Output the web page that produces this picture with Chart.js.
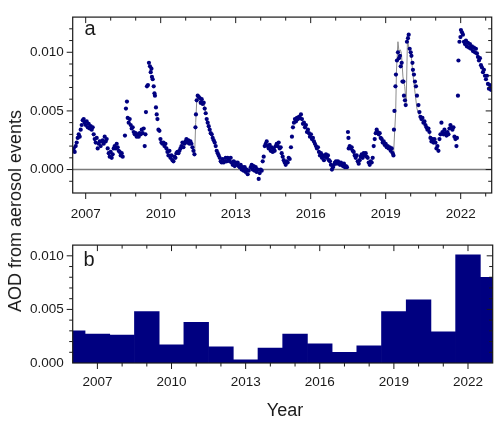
<!DOCTYPE html>
<html>
<head>
<meta charset="utf-8">
<script src="https://cdn.jsdelivr.net/npm/chart.js@4.4.0/dist/chart.umd.min.js"></script>
<style>
  html, body { margin: 0; padding: 0; background: #fff; }
  #wrap { position: relative; width: 500px; height: 422px; font-family: "Liberation Sans", Arial, sans-serif; color: #1a1a1a; }
  canvas { position: absolute; left: 0; }
  #cA { top: 0; }
  #cB { top: 228px; }
  .lbl { position: absolute; white-space: nowrap; transform: translate(-50%, -50%); line-height: 1; }
  #yTitle { left: 15px; top: 211px; font-size: 18px; transform: translate(-50%, -50%) rotate(-90deg); }
  #xTitle { left: 285px; top: 410px; font-size: 18px; }
  #tagA { left: 90px; top: 28px; font-size: 20px; }
  #tagB { left: 89px; top: 259px; font-size: 20px; }
</style>
</head>
<body>
<div id="wrap">
  <canvas id="cA" width="500" height="228"></canvas>
  <canvas id="cB" width="500" height="194"></canvas>
  <div class="lbl" id="yTitle">AOD from aerosol events</div>
  <div class="lbl" id="xTitle">Year</div>
  <div class="lbl" id="tagA">a</div>
  <div class="lbl" id="tagB">b</div>
</div>
<script>
// panel a: individual event AOD values [decimal year, AOD]
const events2006to2008 = [
  [2006.48,0.0016],[2006.52,0.0018],[2006.56,0.0015],[2006.60,0.0020],[2006.64,0.0023],[2006.68,0.0027],
  [2006.72,0.0030],[2006.76,0.0028],[2006.80,0.0034],[2006.84,0.0038],[2006.88,0.0042],[2006.92,0.0043],
  [2006.96,0.0040],[2007.00,0.0038],[2007.04,0.0041],[2007.08,0.0036],[2007.12,0.0039],[2007.16,0.0035],
  [2007.20,0.0037],[2007.24,0.0034],[2007.28,0.0036],[2007.32,0.0030],[2007.36,0.0026],[2007.40,0.0023],
  [2007.44,0.0027],[2007.48,0.0018],[2007.52,0.0022],[2007.56,0.0024],[2007.60,0.0020],[2007.64,0.0024],
  [2007.68,0.0025],[2007.72,0.0022],[2007.76,0.0028],[2007.80,0.0024],[2007.84,0.0026],[2007.88,0.0018],
  [2007.92,0.0014],[2007.96,0.0011],[2008.00,0.0015],[2008.04,0.0010],[2008.08,0.0013],[2008.12,0.0018],
  [2008.16,0.0020],[2008.20,0.0018],[2008.24,0.0022],[2008.28,0.0019],[2008.32,0.0016],[2008.36,0.0015],
  [2008.40,0.0012],[2008.44,0.0014],[2008.48,0.0011]
];
const events2008to2013 = [
  [2008.57,0.0029],[2008.61,0.0052],[2008.65,0.0058],[2008.68,0.0044],[2008.72,0.0040],[2008.76,0.0043],
  [2008.80,0.0038],[2008.84,0.0035],[2008.88,0.0036],[2008.92,0.0032],[2008.96,0.0030],[2009.00,0.0031],
  [2009.04,0.0028],[2009.08,0.0030],[2009.12,0.0028],[2009.16,0.0031],[2009.20,0.0030],[2009.24,0.0034],
  [2009.28,0.0031],[2009.32,0.0035],[2009.36,0.0020],[2009.39,0.0030],[2009.41,0.0049],[2009.45,0.0071],
  [2009.49,0.0072],[2009.53,0.0091],[2009.57,0.0088],[2009.60,0.0083],[2009.63,0.0086],[2009.65,0.0079],
  [2009.68,0.0077],[2009.72,0.0071],[2009.75,0.0065],[2009.77,0.0063],[2009.81,0.0053],[2009.84,0.0047],
  [2009.87,0.0043],[2009.91,0.0034],[2009.95,0.0033],[2009.99,0.0026],[2010.03,0.0023],[2010.07,0.0022],
  [2010.11,0.0023],[2010.15,0.0020],[2010.19,0.0022],[2010.23,0.0018],[2010.27,0.0015],[2010.31,0.0012],
  [2010.35,0.0016],[2010.39,0.0010],[2010.43,0.0012],[2010.47,0.0008],[2010.51,0.0007],[2010.55,0.0011],
  [2010.59,0.0010],[2010.63,0.0014],[2010.67,0.0015],[2010.71,0.0014],[2010.75,0.0016],[2010.79,0.0018],
  [2010.83,0.0020],[2010.87,0.0023],[2010.91,0.0019],[2010.95,0.0022],[2010.99,0.0024],[2011.03,0.0026],
  [2011.07,0.0023],[2011.11,0.0025],[2011.15,0.0022],[2011.19,0.0024],[2011.23,0.0022],[2011.27,0.0019],
  [2011.31,0.0016],[2011.35,0.0013],[2011.39,0.0036],[2011.41,0.0047],[2011.44,0.0059],[2011.48,0.0063],
  [2011.52,0.0062],[2011.56,0.0061],[2011.60,0.0057],[2011.64,0.0060],[2011.68,0.0056],[2011.72,0.0057],
  [2011.76,0.0052],[2011.80,0.0048],[2011.84,0.0043],[2011.88,0.0040],[2011.92,0.0037],[2011.96,0.0034],
  [2012.00,0.0031],[2012.04,0.0030],[2012.08,0.0027],[2012.12,0.0025],[2012.16,0.0023],[2012.20,0.0020],
  [2012.24,0.0016],[2012.28,0.0014],[2012.32,0.0012],[2012.36,0.0010],[2012.40,0.0007],[2012.44,0.0006],
  [2012.48,0.0009],[2012.52,0.0006],[2012.56,0.0007],[2012.60,0.0010],[2012.64,0.0007],[2012.68,0.0010],
  [2012.72,0.0009],[2012.76,0.0007],[2012.80,0.0010],[2012.84,0.0006],[2012.88,0.0004],[2012.92,0.0007],
  [2012.96,0.0003],[2013.00,0.0006],[2013.04,0.0004],[2013.08,0.0006],[2013.12,0.0003],[2013.16,0.0002],
  [2013.20,0.0004],[2013.24,0.0000],[2013.28,0.0002],[2013.32,-0.0001],[2013.36,0.0002],[2013.40,-0.0002],
  [2013.44,0.0000],[2013.48,-0.0004],[2013.52,-0.0001]
];
const events2013to2019 = [
  [2013.60,0.0002],[2013.64,0.0004],[2013.68,0.0000],[2013.72,0.0003],[2013.76,-0.0001],[2013.80,0.0002],
  [2013.84,-0.0002],[2013.88,0.0000],[2013.92,-0.0008],[2013.96,-0.0003],[2014.00,0.0000],[2014.04,-0.0001],
  [2014.08,0.0007],[2014.12,0.0011],[2014.16,0.0020],[2014.20,0.0022],[2014.24,0.0024],[2014.28,0.0020],
  [2014.32,0.0018],[2014.36,0.0021],[2014.40,0.0016],[2014.44,0.0019],[2014.48,0.0015],[2014.52,0.0018],
  [2014.56,0.0016],[2014.60,0.0020],[2014.64,0.0022],[2014.68,0.0020],[2014.72,0.0023],[2014.76,0.0018],
  [2014.80,0.0019],[2014.84,0.0014],[2014.88,0.0011],[2014.92,0.0008],[2014.96,0.0006],[2015.00,0.0004],
  [2015.04,0.0007],[2015.08,0.0006],[2015.12,0.0010],[2015.16,0.0009],[2015.21,0.0019],[2015.25,0.0028],
  [2015.29,0.0036],[2015.33,0.0040],[2015.37,0.0043],[2015.41,0.0041],[2015.45,0.0044],[2015.49,0.0043],
  [2015.53,0.0045],[2015.57,0.0044],[2015.61,0.0047],[2015.65,0.0043],[2015.69,0.0039],[2015.73,0.0040],
  [2015.77,0.0036],[2015.81,0.0038],[2015.85,0.0032],[2015.89,0.0034],[2015.93,0.0031],[2015.97,0.0028],
  [2016.01,0.0030],[2016.05,0.0026],[2016.09,0.0027],[2016.13,0.0024],[2016.17,0.0022],[2016.21,0.0020],
  [2016.25,0.0018],[2016.29,0.0019],[2016.33,0.0015],[2016.37,0.0012],[2016.41,0.0014],[2016.45,0.0010],
  [2016.49,0.0012],[2016.53,0.0008],[2016.57,0.0011],[2016.61,0.0013],[2016.65,0.0010],[2016.69,0.0012],
  [2016.73,0.0008],[2016.77,0.0007],[2016.81,0.0004],[2016.85,0.0000],[2016.89,0.0002],[2016.93,0.0004],
  [2016.97,0.0006],[2017.01,0.0007],[2017.05,0.0005],[2017.09,0.0007],[2017.13,0.0006],[2017.17,0.0004],
  [2017.21,0.0006],[2017.25,0.0004],[2017.29,0.0003],[2017.33,0.0005],[2017.37,0.0002],[2017.41,0.0003],
  [2017.45,0.0002],[2017.49,0.0032],[2017.51,0.0027],[2017.52,0.0018],[2017.56,0.0020],[2017.60,0.0018],
  [2017.64,0.0019],[2017.68,0.0016],[2017.72,0.0015],[2017.76,0.0012],[2017.80,0.0010],[2017.84,0.0012],
  [2017.88,0.0007],[2017.92,0.0005],[2017.96,0.0008],[2018.00,0.0011],[2018.04,0.0013],[2018.08,0.0010],
  [2018.12,0.0014],[2018.16,0.0012],[2018.20,0.0014],[2018.24,0.0011],[2018.28,0.0010],[2018.32,0.0006],
  [2018.36,0.0004],[2018.40,0.0007],[2018.44,0.0006],[2018.48,0.0010],[2018.52,0.0020],[2018.56,0.0026],
  [2018.60,0.0031],[2018.64,0.0034],[2018.68,0.0032],[2018.72,0.0030],[2018.76,0.0031],[2018.80,0.0027],
  [2018.84,0.0026],[2018.88,0.0023],[2018.92,0.0024],[2018.96,0.0021],[2019.00,0.0022],[2019.04,0.0019],
  [2019.08,0.0020],[2019.12,0.0018],[2019.16,0.0019],[2019.20,0.0016],[2019.24,0.0018],[2019.28,0.0014],
  [2019.31,0.0012]
];
const events2019to2023 = [
  [2019.33,0.0034],[2019.35,0.0050],[2019.39,0.0071],[2019.41,0.0081],[2019.45,0.0093],[2019.49,0.0100],
  [2019.53,0.0095],[2019.57,0.0097],[2019.60,0.0088],[2019.64,0.0091],[2019.67,0.0075],[2019.71,0.0075],
  [2019.73,0.0063],[2019.77,0.0059],[2019.80,0.0055],[2019.85,0.0109],[2019.89,0.0112],[2019.92,0.0115],
  [2019.96,0.0103],[2020.00,0.0100],[2020.03,0.0097],[2020.07,0.0091],[2020.09,0.0085],[2020.13,0.0081],
  [2020.17,0.0075],[2020.21,0.0071],[2020.25,0.0063],[2020.31,0.0055],[2020.35,0.0049],[2020.39,0.0045],
  [2020.43,0.0043],[2020.47,0.0044],[2020.51,0.0040],[2020.55,0.0041],[2020.59,0.0038],[2020.63,0.0036],
  [2020.67,0.0034],[2020.71,0.0035],[2020.75,0.0032],[2020.79,0.0027],[2020.83,0.0024],[2020.87,0.0026],
  [2020.91,0.0023],[2020.95,0.0026],[2020.99,0.0023],[2021.03,0.0018],[2021.07,0.0020],[2021.11,0.0016],
  [2021.15,0.0026],[2021.19,0.0030],[2021.23,0.0040],[2021.27,0.0032],[2021.31,0.0030],[2021.35,0.0034],
  [2021.39,0.0031],[2021.43,0.0029],[2021.47,0.0032],[2021.51,0.0030],[2021.55,0.0035],[2021.59,0.0038],
  [2021.63,0.0036],[2021.67,0.0034],[2021.71,0.0036],[2021.75,0.0028],[2021.79,0.0026],[2021.83,0.0020],
  [2021.85,0.0027],[2021.89,0.0063],[2021.91,0.0093],[2021.95,0.0109],[2021.99,0.0113],[2022.01,0.0119],
  [2022.05,0.0117],[2022.09,0.0115],[2022.13,0.0109],[2022.17,0.0107],[2022.21,0.0110],[2022.25,0.0105],
  [2022.29,0.0108],[2022.33,0.0104],[2022.37,0.0107],[2022.41,0.0103],[2022.45,0.0105],[2022.49,0.0101],
  [2022.53,0.0104],[2022.57,0.0100],[2022.61,0.0103],[2022.65,0.0099],[2022.69,0.0096],[2022.73,0.0093],
  [2022.77,0.0095],[2022.81,0.0089],[2022.85,0.0087],[2022.89,0.0083],[2022.93,0.0085],[2022.97,0.0080],
  [2023.01,0.0077],[2023.05,0.0080],[2023.09,0.0073],[2023.13,0.0069],[2023.17,0.0072],[2023.21,0.0068]
];

// grey traces through the 2011 and 2019-2020 episodes
const greyLine2011 = [
  [2011.36,0.0014],[2011.40,0.0040],[2011.44,0.0058],[2011.48,0.0063],[2011.53,0.0061],[2011.58,0.0055],
  [2011.62,0.0059],[2011.67,0.0056],[2011.72,0.0056],[2011.77,0.0052],[2011.83,0.0048]
];
const greyLine2019 = [
  [2019.31,0.0011],[2019.36,0.0033],[2019.40,0.0049],[2019.43,0.0084],[2019.49,0.0109],[2019.53,0.0101],
  [2019.59,0.0102],[2019.63,0.0099],[2019.69,0.0079],[2019.76,0.0071],[2019.82,0.0057],[2019.87,0.0111],
  [2019.93,0.0103],[2020.03,0.0095],[2020.09,0.0081],[2020.16,0.0068],[2020.25,0.0052],[2020.33,0.0047],
  [2020.43,0.0043],[2020.52,0.0039],[2020.63,0.0036],[2020.73,0.0034],[2020.80,0.0024],[2020.89,0.0027],
  [2020.96,0.0023],[2021.03,0.0026]
];

// panel b: yearly values
const barYears = [2006, 2007, 2008, 2009, 2010, 2011, 2012, 2013, 2014, 2015, 2016, 2017, 2018, 2019, 2020, 2021, 2022, 2023];
const barAOD = [0.0030, 0.0027, 0.0026, 0.0048, 0.0017, 0.0038, 0.0015, 0.0003, 0.0014, 0.0027, 0.0018, 0.0010, 0.0016, 0.0048, 0.0059, 0.0029, 0.0101, 0.0080];

// tick labels
const yearTicks = [2007, 2010, 2013, 2016, 2019, 2022];
const aodTicks = [0, 0.005, 0.010];

const NAVY = '#000080';
const INK = '#1a1a1a';
const FONT = '"Liberation Sans", Arial, sans-serif';

const toXY = pts => pts.map(([x, y]) => ({ x, y }));

function minorYears(from, to) {
    const out = [];
    for (let yr = from; yr <= to; yr++) {
        if (!yearTicks.includes(yr)) out.push(yr);
    }
    return out;
}
function minorAOD(fromK, toK) {
    const out = [];
    for (let k = fromK; k <= toK; k++) {
        if (k % 5 !== 0) out.push(k / 1000);
    }
    return out;
}

// frame box, in/out tick marks (major + minor) and the zero line
const frameTicks = {
    id: 'frameTicks',
    beforeDatasetsDraw(chart, args, o) {
        if (!o.zeroLine) return;
        const { ctx, chartArea: a, scales: { y } } = chart;
        const py = y.getPixelForValue(0);
        ctx.save();
        ctx.strokeStyle = '#7a7a7a';
        ctx.lineWidth = 1.5;
        ctx.beginPath();
        ctx.moveTo(a.left, py);
        ctx.lineTo(a.right, py);
        ctx.stroke();
        ctx.restore();
    },
    afterDatasetsDraw(chart, args, o) {
        const { ctx, chartArea: a, scales: { x, y } } = chart;
        ctx.save();
        ctx.strokeStyle = INK;
        ctx.lineWidth = 1.2;
        ctx.strokeRect(a.left, a.top, a.right - a.left, a.bottom - a.top);
        ctx.lineWidth = 1;
        const seg = (x1, y1, x2, y2) => {
            ctx.beginPath();
            ctx.moveTo(x1, y1);
            ctx.lineTo(x2, y2);
            ctx.stroke();
        };
        const xMarks = (vals, len) => vals.forEach(v => {
            const px = x.getPixelForValue(v);
            if (px <= a.left + 1 || px >= a.right - 1) return;
            seg(px, a.bottom, px, a.bottom + len);
            seg(px, a.top, px, a.top + len);
        });
        const yMarks = (vals, len) => vals.forEach(v => {
            const py = y.getPixelForValue(v);
            if (py <= a.top + 1 || py >= a.bottom - 1) return;
            seg(a.left, py, a.left - len, py);
            seg(a.right, py, a.right - len, py);
        });
        xMarks(o.xMajor, 6);
        xMarks(o.xMinor, 3.5);
        yMarks(o.yMajor, 6);
        yMarks(o.yMinor, 3.5);
        ctx.restore();
    }
};

function axisX(min, max, height, pad) {
    return {
        type: 'linear', min, max, offset: false,
        afterBuildTicks: s => { s.ticks = yearTicks.map(v => ({ value: v })); },
        afterFit: s => { s.height = height; },
        grid: { display: false, drawTicks: false, tickLength: 0 },
        border: { display: false },
        ticks: { padding: pad, color: INK, font: { family: FONT, size: 13.5 }, autoSkip: false, maxRotation: 0, callback: v => String(v) }
    };
}
function axisY(min, max) {
    return {
        type: 'linear', min, max,
        afterBuildTicks: s => { s.ticks = aodTicks.map(v => ({ value: v })); },
        afterFit: s => { s.width = 72.7; },
        grid: { display: false, drawTicks: false, tickLength: 0 },
        border: { display: false },
        ticks: { padding: 9, color: INK, font: { family: FONT, size: 13.5 }, callback: v => v.toFixed(3) }
    };
}

new Chart(document.getElementById('cA'), {
    type: 'scatter',
    data: {
        datasets: [
            {
                data: toXY([...events2006to2008, ...events2008to2013, ...events2013to2019, ...events2019to2023]),
                backgroundColor: NAVY, borderWidth: 0, pointRadius: 2.1, pointHoverRadius: 2.1
            },
            { type: 'line', data: toXY(greyLine2011), borderColor: '#8c8c8c', borderWidth: 1, pointRadius: 0, tension: 0 },
            { type: 'line', data: toXY(greyLine2019), borderColor: '#8c8c8c', borderWidth: 1, pointRadius: 0, tension: 0 }
        ]
    },
    options: {
        responsive: false,
        animation: false,
        events: [],
        layout: { padding: { left: 0, right: 8.3, top: 5.7, bottom: 0 } },
        plugins: {
            legend: { display: false },
            tooltip: { enabled: false },
            frameTicks: { zeroLine: true, xMajor: yearTicks, xMinor: minorYears(2006, 2023), yMajor: aodTicks, yMinor: minorAOD(-2, 13) }
        },
        scales: { x: axisX(2006.48, 2023.24, 35, 13.5), y: axisY(-0.002, 0.013) }
    },
    plugins: [frameTicks]
});

new Chart(document.getElementById('cB'), {
    type: 'bar',
    data: {
        datasets: [{
            data: barYears.map((x, i) => ({ x, y: barAOD[i] })),
            backgroundColor: NAVY, borderWidth: 0, barPercentage: 1, categoryPercentage: 1
        }]
    },
    options: {
        responsive: false,
        animation: false,
        events: [],
        layout: { padding: { left: 0, right: 7.3, top: 6.3, bottom: 0 } },
        plugins: {
            legend: { display: false },
            tooltip: { enabled: false },
            frameTicks: { zeroLine: false, xMajor: yearTicks, xMinor: minorYears(2006, 2023), yMajor: aodTicks, yMinor: minorAOD(0, 11) }
        },
        scales: { x: axisX(2006, 2023, 59, 11.4), y: axisY(0, 0.011) }
    },
    plugins: [frameTicks]
});
</script>
</body>
</html>
